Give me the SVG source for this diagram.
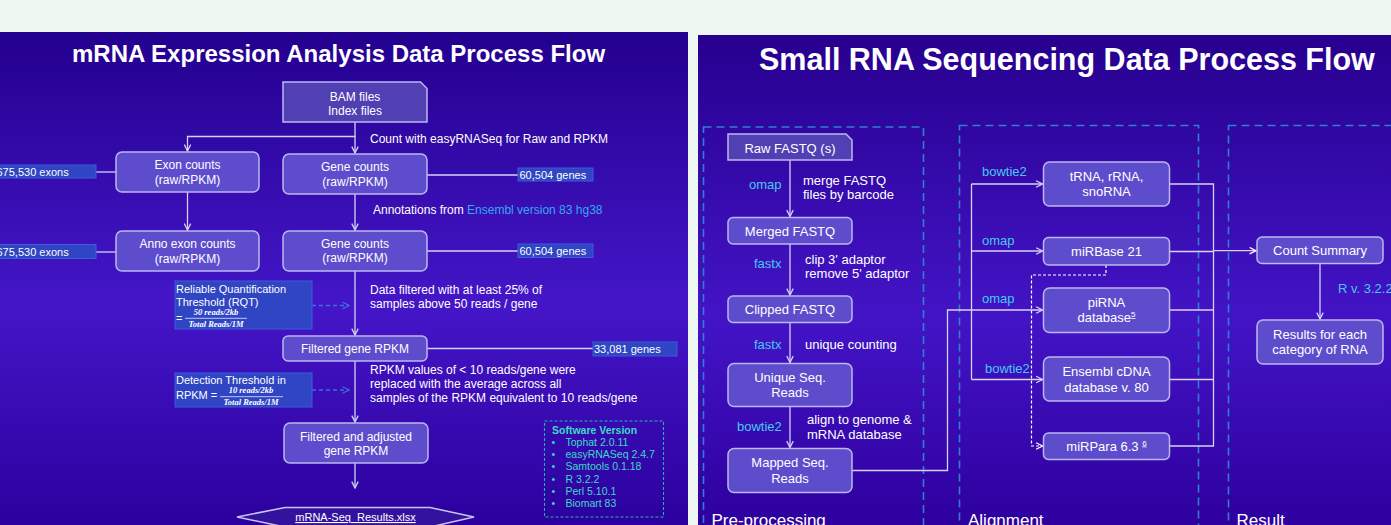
<svg xmlns="http://www.w3.org/2000/svg" width="1391" height="525" viewBox="0 0 1391 525">
  <defs>
    <linearGradient id="panelL" x1="0" y1="0" x2="0" y2="1">
      <stop offset="0" stop-color="#24008f"/>
      <stop offset="0.55" stop-color="#4416c8"/>
      <stop offset="1" stop-color="#2c009e"/>
    </linearGradient>
    <linearGradient id="panelR" x1="0" y1="0" x2="0" y2="1">
      <stop offset="0" stop-color="#27008f"/>
      <stop offset="0.58" stop-color="#4314c6"/>
      <stop offset="1" stop-color="#2e009e"/>
    </linearGradient>
    <marker id="arr" viewBox="0 0 10 10" refX="9" refY="5" markerWidth="8" markerHeight="8" markerUnits="userSpaceOnUse" orient="auto">
      <path d="M1,1 L9,5 L1,9" fill="none" stroke="#d6d2f6" stroke-width="1.6"/>
    </marker>
    <marker id="arrB" viewBox="0 0 10 10" refX="9" refY="5" markerWidth="8" markerHeight="8" markerUnits="userSpaceOnUse" orient="auto">
      <path d="M1,1 L9,5 L1,9" fill="none" stroke="#3a72d8" stroke-width="1.6"/>
    </marker>
    <marker id="arrW" viewBox="0 0 10 10" refX="9" refY="5" markerWidth="8" markerHeight="8" markerUnits="userSpaceOnUse" orient="auto">
      <path d="M1,1 L9,5 L1,9" fill="none" stroke="#ffffff" stroke-width="1.6"/>
    </marker>
  </defs>
  <style>
    text { font-family: "Liberation Sans", Arial, sans-serif; fill: #ffffff; }
    .title { font-weight: bold; }
    .box { fill: #5d4dcd; stroke: #bdb6f0; stroke-width: 1.5; }
    .file { fill: #5040b4; stroke: #bdb6f0; stroke-width: 1.5; }
    .tag { fill: #2f45c4; stroke: #3c5cd8; stroke-width: 1; }
    .n12 { font-size: 12px; text-anchor: middle; }
    .n13 { font-size: 13px; text-anchor: middle; }
    .t12 { font-size: 12px; }
    .t13 { font-size: 13px; }
    .t11 { font-size: 11px; }
    .cyan { fill: #46c9f2; font-size: 13px; }
    .sw { fill: #3fd9c6; font-size: 10.5px; }
    .frac { font-family: "Liberation Serif", serif; font-style: italic; font-weight: bold; font-size: 8.5px; text-anchor: middle; }
    .sec { font-size: 17px; }
    .link { fill: none; stroke: #d6d2f6; stroke-width: 1.3; }
    .dash { fill: none; stroke: #3a72d8; stroke-width: 1.3; stroke-dasharray: 4 3; }
    .wdash { fill: none; stroke: #ffffff; stroke-width: 1.2; stroke-dasharray: 3 2; }
    .group { fill: none; stroke: #2c80d0; stroke-width: 1.6; stroke-dasharray: 8 5; }
  </style>

  <!-- page and panels -->
  <rect x="0" y="0" width="1391" height="525" fill="#eef7f2"/>
  <rect x="0" y="32" width="688" height="493" fill="url(#panelL)"/>
  <rect x="698" y="35" width="693" height="490" fill="url(#panelR)"/>

  <!-- ===== mRNA panel ===== -->
  <text class="title" x="72" y="62" font-size="24">mRNA Expression Analysis Data Process Flow</text>

  <g id="connectors-mrna">
    <path class="link" d="M355,122 V136.5 H187.5 V151" marker-end="url(#arr)"/>
    <path class="link" d="M355,136.5 V153" marker-end="url(#arr)"/>
    <path class="link" d="M187.5,192 V230" marker-end="url(#arr)"/>
    <path class="link" d="M355,194 V230" marker-end="url(#arr)"/>
    <path class="link" d="M355,271 V335" marker-end="url(#arr)"/>
    <path class="link" d="M355,361 V422" marker-end="url(#arr)"/>
    <path class="link" d="M355,463 V488" marker-end="url(#arr)"/>
    <path class="link" d="M96,172 H116"/>
    <path class="link" d="M96,252 H116"/>
    <path class="link" d="M427,175 H518"/>
    <path class="link" d="M427,251 H518"/>
    <path class="link" d="M427,348.5 H593"/>
    <path class="dash" d="M312,305.5 H349" marker-end="url(#arrB)"/>
    <path class="dash" d="M312,390 H349" marker-end="url(#arrB)"/>
  </g>

  <g id="bam-files">
    <path class="file" d="M283,82 H420.5 L427,88.5 V122 H283 Z"/>
    <text class="n12" x="355" y="101">BAM files</text>
    <text class="n12" x="355" y="114.5">Index files</text>
  </g>
  <text class="t12" x="370" y="143">Count with easyRNASeq for Raw and RPKM</text>

  <g id="exon-counts">
    <rect class="box" x="116" y="152" width="143" height="40" rx="6"/>
    <text class="n12" x="187.5" y="169">Exon counts</text>
    <text class="n12" x="187.5" y="184">(raw/RPKM)</text>
  </g>
  <g id="exon-total">
    <rect class="tag" x="-2" y="165" width="98" height="13"/>
    <text class="t11" x="-3.5" y="176">675,530 exons</text>
  </g>

  <g id="gene-counts">
    <rect class="box" x="283" y="154" width="144" height="40" rx="6"/>
    <text class="n12" x="355" y="171">Gene counts</text>
    <text class="n12" x="355" y="186">(raw/RPKM)</text>
  </g>
  <g id="gene-total">
    <rect class="tag" x="518" y="168" width="75" height="13"/>
    <text class="t11" x="519.5" y="178.5">60,504 genes</text>
  </g>

  <text class="t12" x="373" y="214">Annotations from <tspan fill="#36a8f0">Ensembl version 83 hg38</tspan></text>

  <g id="anno-exon-counts">
    <rect class="box" x="116" y="231" width="143" height="40" rx="6"/>
    <text class="n12" x="187.5" y="248">Anno exon counts</text>
    <text class="n12" x="187.5" y="262.5">(raw/RPKM)</text>
  </g>
  <g id="anno-exon-total">
    <rect class="tag" x="-2" y="244.5" width="98" height="14"/>
    <text class="t11" x="-3.5" y="255.5">675,530 exons</text>
  </g>

  <g id="anno-gene-counts">
    <rect class="box" x="283" y="231" width="144" height="40" rx="6"/>
    <text class="n12" x="355" y="247.5">Gene counts</text>
    <text class="n12" x="355" y="262">(raw/RPKM)</text>
  </g>
  <g id="anno-gene-total">
    <rect class="tag" x="518" y="244" width="75" height="13.5"/>
    <text class="t11" x="519.5" y="254.5">60,504 genes</text>
  </g>

  <g id="rqt">
    <rect class="tag" x="175" y="281" width="137" height="48"/>
    <text class="t11" x="176" y="292.5">Reliable Quantification</text>
    <text class="t11" x="176" y="306">Threshold (RQT)</text>
    <text class="t11" x="176" y="322">=</text>
    <text class="frac" x="216" y="315">50 reads/2kb</text>
    <line x1="185" y1="318.3" x2="247" y2="318.3" stroke="#ffffff" stroke-width="0.7"/>
    <text class="frac" x="216" y="327">Total Reads/1M</text>
  </g>
  <text class="t12" x="370" y="294">Data filtered with at least 25% of</text>
  <text class="t12" x="370" y="308">samples above 50 reads / gene</text>

  <g id="filtered-gene-rpkm">
    <rect class="box" x="283" y="336" width="144" height="25" rx="5"/>
    <text class="n12" x="355" y="352.5">Filtered gene RPKM</text>
  </g>
  <g id="filtered-total">
    <rect class="tag" x="593" y="342" width="84" height="14"/>
    <text class="t11" x="594" y="353">33,081 genes</text>
  </g>

  <g id="detection-threshold">
    <rect class="tag" x="175" y="373" width="137" height="34"/>
    <text class="t11" x="176" y="383.5">Detection Threshold in</text>
    <text class="t11" x="176" y="399">RPKM =</text>
    <text class="frac" x="251" y="393">10 reads/2kb</text>
    <line x1="220" y1="396.7" x2="283" y2="396.7" stroke="#ffffff" stroke-width="0.7"/>
    <text class="frac" x="251" y="405">Total Reads/1M</text>
  </g>
  <text class="t12" x="370" y="373.5">RPKM values of &lt; 10 reads/gene were</text>
  <text class="t12" x="370" y="387.5">replaced with the average across all</text>
  <text class="t12" x="370" y="402">samples of the RPKM equivalent to 10 reads/gene</text>

  <g id="filtered-adjusted">
    <rect class="box" x="284" y="423" width="144" height="40" rx="6"/>
    <text class="n12" x="356" y="440.5">Filtered and adjusted</text>
    <text class="n12" x="356" y="455">gene RPKM</text>
  </g>

  <g id="results-file">
    <polygon points="237,517 285,507.5 430,507.5 474,517 430,527 285,527" fill="#33139e" stroke="#c8c4f0" stroke-width="1.5"/>
    <text x="355.5" y="521" font-size="11" text-anchor="middle" fill="#cdc6f4" text-decoration="underline">mRNA-Seq_Results.xlsx</text>
  </g>

  <g id="software-version">
    <rect x="544.5" y="421" width="119" height="96" fill="none" stroke="#22b4b0" stroke-width="1.1" stroke-dasharray="3 2"/>
    <text class="sw" x="552" y="433.5" font-weight="bold">Software Version</text>
    <text class="sw" x="551.5" y="446">•</text><text class="sw" x="565.5" y="446">Tophat 2.0.11</text>
    <text class="sw" x="551.5" y="458">•</text><text class="sw" x="565.5" y="458">easyRNASeq 2.4.7</text>
    <text class="sw" x="551.5" y="470">•</text><text class="sw" x="565.5" y="470">Samtools 0.1.18</text>
    <text class="sw" x="551.5" y="482.5">•</text><text class="sw" x="565.5" y="482.5">R 3.2.2</text>
    <text class="sw" x="551.5" y="494.5">•</text><text class="sw" x="565.5" y="494.5">Perl 5.10.1</text>
    <text class="sw" x="551.5" y="507">•</text><text class="sw" x="565.5" y="507">Biomart 83</text>
  </g>

  <!-- ===== small RNA panel ===== -->
  <text class="title" x="759" y="70" font-size="30.5">Small RNA Sequencing Data Process Flow</text>

  <g id="stage-frames">
    <rect class="group" x="703.5" y="127" width="220" height="420"/>
    <rect class="group" x="959.5" y="125.5" width="239" height="420"/>
    <rect class="group" x="1228.5" y="125.5" width="200" height="420"/>
    <text class="sec" x="711.5" y="526">Pre-processing</text>
    <text class="sec" x="968" y="526">Alignment</text>
    <text class="sec" x="1236.5" y="526">Result</text>
  </g>

  <g id="connectors-smallrna">
    <path class="link" d="M790,160 V216.5" marker-end="url(#arr)"/>
    <path class="link" d="M790,244 V295" marker-end="url(#arr)"/>
    <path class="link" d="M790,322.5 V362.5" marker-end="url(#arr)"/>
    <path class="link" d="M790,406.5 V447.5" marker-end="url(#arr)"/>
    <path class="link" d="M852,470.5 H947.5 V310 H1042.5" marker-end="url(#arr)"/>
    <path class="link" d="M971.5,184 V379.5"/>
    <path class="link" d="M971.5,184 H1042.5" marker-end="url(#arr)"/>
    <path class="link" d="M971.5,251 H1042.5" marker-end="url(#arr)"/>
    <path class="link" d="M971.5,379.5 H1042.5" marker-end="url(#arr)"/>
    <path class="link" d="M1169.5,184 H1213.5 V446 H1169.5"/>
    <path class="link" d="M1169.5,251.5 H1213.5"/>
    <path class="link" d="M1169.5,310 H1213.5"/>
    <path class="link" d="M1169.5,379.5 H1213.5"/>
    <path class="link" d="M1213.5,250.7 H1256" stroke-width="2" marker-end="url(#arrW)"/>
    <path class="link" d="M1320,263.5 V319" marker-end="url(#arr)"/>
    <path class="wdash" d="M1106,265 V275 H1031.5 V446 H1042.5" marker-end="url(#arrW)"/>
  </g>

  <g id="raw-fastq">
    <path class="file" d="M728,134 H846 L852,140 V160 H728 Z"/>
    <text class="n13" x="790" y="152.5">Raw FASTQ (s)</text>
  </g>
  <text class="cyan" x="749" y="189">omap</text>
  <text class="t13" x="803" y="185">merge FASTQ</text>
  <text class="t13" x="803" y="199">files by barcode</text>

  <g id="merged-fastq">
    <rect class="box" x="728" y="217.5" width="124" height="26.5" rx="5"/>
    <text class="n13" x="790" y="235.5">Merged FASTQ</text>
  </g>
  <text class="cyan" x="754" y="268">fastx</text>
  <text class="t13" x="805" y="263.5">clip 3' adaptor</text>
  <text class="t13" x="805" y="278">remove 5' adaptor</text>

  <g id="clipped-fastq">
    <rect class="box" x="728" y="296" width="124" height="26.5" rx="5"/>
    <text class="n13" x="790" y="314">Clipped FASTQ</text>
  </g>
  <text class="cyan" x="754" y="349">fastx</text>
  <text class="t13" x="805" y="349">unique counting</text>

  <g id="unique-reads">
    <rect class="box" x="728" y="363.5" width="124" height="43" rx="6"/>
    <text class="n13" x="790" y="381.5">Unique Seq.</text>
    <text class="n13" x="790" y="397">Reads</text>
  </g>
  <text class="cyan" x="737" y="430.5">bowtie2</text>
  <text class="t13" x="807" y="423.5">align to genome &amp;</text>
  <text class="t13" x="807" y="438.5">mRNA database</text>

  <g id="mapped-reads">
    <rect class="box" x="728" y="448.5" width="124" height="44" rx="6"/>
    <text class="n13" x="790" y="467">Mapped Seq.</text>
    <text class="n13" x="790" y="482.5">Reads</text>
  </g>

  <text class="cyan" x="982" y="176">bowtie2</text>
  <text class="cyan" x="982" y="245">omap</text>
  <text class="cyan" x="982" y="302.5">omap</text>
  <text class="cyan" x="985" y="372.5">bowtie2</text>

  <g id="trna">
    <rect class="box" x="1043.5" y="162" width="126" height="44" rx="6"/>
    <text class="n13" x="1106.5" y="181">tRNA, rRNA,</text>
    <text class="n13" x="1106.5" y="196">snoRNA</text>
  </g>
  <g id="mirbase">
    <rect class="box" x="1043.5" y="237.5" width="126" height="27.5" rx="5"/>
    <text class="n13" x="1106.5" y="256">miRBase 21</text>
  </g>
  <g id="pirna">
    <rect class="box" x="1043.5" y="288" width="126" height="44.5" rx="6"/>
    <text class="n13" x="1106.5" y="306.5">piRNA</text>
    <text class="n13" x="1106.5" y="322">database<tspan font-size="8" dy="-5" text-decoration="underline">5</tspan></text>
  </g>
  <g id="ensembl-cdna">
    <rect class="box" x="1043.5" y="357" width="126" height="44" rx="6"/>
    <text class="n13" x="1106.5" y="376">Ensembl cDNA</text>
    <text class="n13" x="1106.5" y="391.5">database v. 80</text>
  </g>
  <g id="mirpara">
    <rect class="box" x="1043.5" y="433" width="126" height="26.5" rx="5"/>
    <text class="n13" x="1106.5" y="450.5">miRPara 6.3 <tspan font-size="8" dy="-5" text-decoration="underline">6</tspan></text>
  </g>

  <g id="count-summary">
    <rect class="box" x="1257" y="237" width="126" height="26.5" rx="5"/>
    <text class="n13" x="1320" y="255">Count Summary</text>
  </g>
  <text class="cyan" x="1338" y="292.5">R v. 3.2.2</text>
  <g id="category-results">
    <rect class="box" x="1257" y="320" width="126" height="44" rx="6"/>
    <text class="n13" x="1320" y="338.5">Results for each</text>
    <text class="n13" x="1320" y="354">category of RNA</text>
  </g>
</svg>
